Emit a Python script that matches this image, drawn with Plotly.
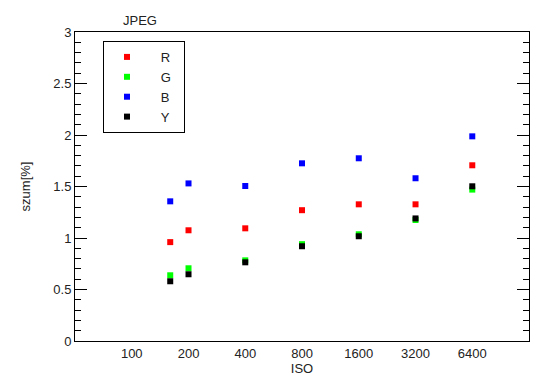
import plotly.graph_objects as go

iso = [160, 200, 400, 800, 1600, 3200, 6400]
r_vals = [0.96, 1.075, 1.094, 1.27, 1.327, 1.327, 1.706]
g_vals = [0.638, 0.706, 0.783, 0.94, 1.036, 1.175, 1.47]
b_vals = [1.356, 1.53, 1.505, 1.725, 1.774, 1.58, 1.987]
y_vals = [0.58, 0.648, 0.764, 0.92, 1.017, 1.19, 1.502]
series = [("R", r_vals, "#ff0000"), ("G", g_vals, "#00ff00"),
          ("B", b_vals, "#0000ff"), ("Y", y_vals, "#000000")]
xticks = [100, 200, 400, 800, 1600, 3200, 6400]
yticks = [0, 0.5, 1, 1.5, 2, 2.5, 3]

fig = go.Figure()
nb = "\u00a0"
for name, vals, col in series:
    fig.add_trace(go.Scatter(x=iso, y=vals, mode="markers", name=nb * 3 + name + nb * 2,
                             marker=dict(symbol="square", size=6, color=col,
                                         line=dict(width=0))))

font = dict(family="Liberation Sans, Arial, sans-serif", size=13, color="#222222")
fig.update_layout(
    width=550, height=389,
    margin=dict(l=75, r=21, t=32, b=48),
    plot_bgcolor="white", paper_bgcolor="white",
    font=font, showlegend=True,
    legend=dict(x=0.0617, y=0.971, xanchor="left", yanchor="top",
                bordercolor="black", borderwidth=1, bgcolor="white",
                itemwidth=36, tracegroupgap=0, font=dict(size=13)),
    annotations=[dict(text="JPEG", x=0.143, xref="paper", y=1.0, yref="paper",
                      yanchor="bottom", xanchor="center", yshift=2,
                      showarrow=False, font=font)],
)
fig.update_xaxes(type="log", range=[1.699, 4.107], tickvals=xticks,
                 ticktext=[str(v) for v in xticks], ticks="", showgrid=False,
                 zeroline=False, showline=True, linecolor="black", linewidth=1,
                 mirror=True, title=dict(text="ISO", standoff=2, font=dict(size=13)))
fig.update_yaxes(range=[0, 3], tickvals=yticks, ticktext=[str(v) for v in yticks],
                 ticks="inside", ticklen=12, tickwidth=1, tickcolor="black",
                 minor=dict(dtick=0.1, ticks="inside", ticklen=6, tickcolor="black", showgrid=False),
                 showgrid=False, zeroline=False, showline=True, linecolor="black",
                 linewidth=1, mirror="ticks",
                 title=dict(text="szum[%]", standoff=19, font=dict(size=13)))
fig.write_html("out.html", config={"displayModeBar": False},
               post_script="document.body.style.margin='0px';document.body.style.padding='0px';")
